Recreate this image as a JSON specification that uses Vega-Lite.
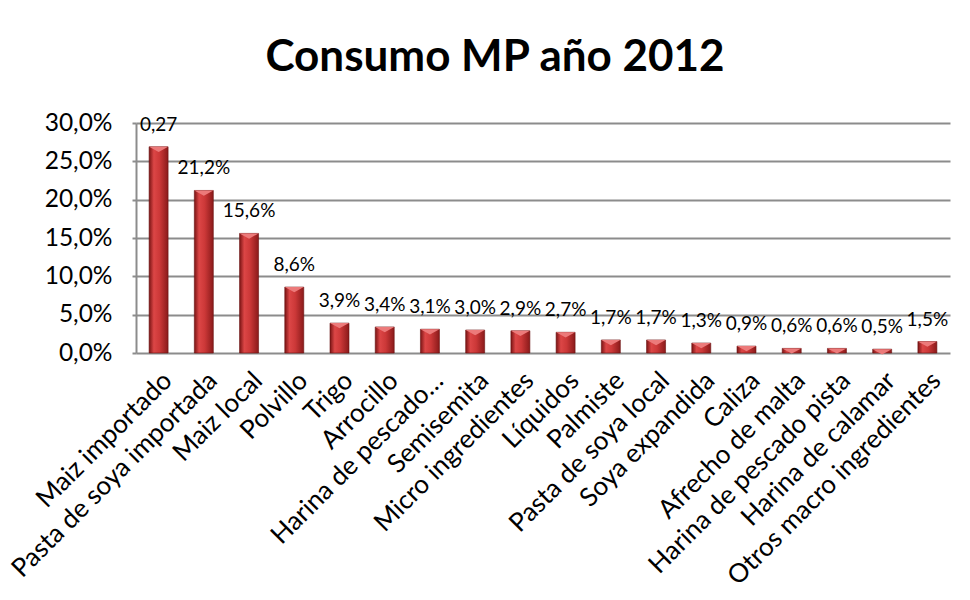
{
  "$schema": "https://vega.github.io/schema/vega-lite/v6.json",
  "autosize": "none",
  "width": 814,
  "height": 230,
  "padding": {"left": 136, "top": 123, "right": 20, "bottom": 247},
  "background": "white",
  "title": {
    "text": "Consumo MP año 2012",
    "font": "Lato",
    "fontSize": 44,
    "fontWeight": "bold",
    "color": "black",
    "anchor": "middle",
    "baseline": "alphabetic",
    "dx": -48,
    "offset": -5
  },
  "data": {
    "values": [
      {"materia": "Maiz importado", "valor": 0.269, "etiqueta": "0,27"},
      {"materia": "Pasta de soya importada", "valor": 0.212, "etiqueta": "21,2%"},
      {"materia": "Maiz local", "valor": 0.156, "etiqueta": "15,6%"},
      {"materia": "Polvillo", "valor": 0.086, "etiqueta": "8,6%"},
      {"materia": "Trigo", "valor": 0.039, "etiqueta": "3,9%"},
      {"materia": "Arrocillo", "valor": 0.034, "etiqueta": "3,4%"},
      {"materia": "Harina de pescado…", "valor": 0.031, "etiqueta": "3,1%"},
      {"materia": "Semisemita", "valor": 0.030, "etiqueta": "3,0%"},
      {"materia": "Micro ingredientes", "valor": 0.029, "etiqueta": "2,9%"},
      {"materia": "Líquidos", "valor": 0.027, "etiqueta": "2,7%"},
      {"materia": "Palmiste", "valor": 0.017, "etiqueta": "1,7%"},
      {"materia": "Pasta de soya local", "valor": 0.017, "etiqueta": "1,7%"},
      {"materia": "Soya expandida", "valor": 0.013, "etiqueta": "1,3%"},
      {"materia": "Caliza", "valor": 0.009, "etiqueta": "0,9%"},
      {"materia": "Afrecho de malta", "valor": 0.006, "etiqueta": "0,6%"},
      {"materia": "Harina de pescado pista", "valor": 0.006, "etiqueta": "0,6%"},
      {"materia": "Harina de calamar", "valor": 0.005, "etiqueta": "0,5%"},
      {"materia": "Otros macro ingredientes", "valor": 0.015, "etiqueta": "1,5%"}
    ]
  },
  "encoding": {
    "x": {
      "field": "materia",
      "type": "nominal",
      "sort": null,
      "scale": {"paddingInner": 0, "paddingOuter": 0},
      "axis": {
        "title": null,
        "labelAngle": -45,
        "labelFont": "Lato",
        "labelFontSize": 26,
        "labelColor": "black",
        "labelLimit": 400,
        "labelPadding": 14,
        "ticks": false,
        "domain": false
      }
    },
    "y": {
      "field": "valor",
      "type": "quantitative",
      "scale": {"domain": [0, 0.3], "nice": false},
      "axis": {
        "title": null,
        "values": [0, 0.05, 0.1, 0.15, 0.2, 0.25, 0.3],
        "labelExpr": "replace(format(datum.value, '.1%'), '.', ',')",
        "labelFont": "Lato",
        "labelFontSize": 24.5,
        "labelColor": "black",
        "labelPadding": 20,
        "domain": true,
        "domainColor": "#8c8c8c",
        "domainWidth": 2,
        "ticks": true,
        "tickColor": "#8c8c8c",
        "tickSize": 4,
        "tickWidth": 2,
        "grid": true,
        "gridColor": "#8c8c8c",
        "gridWidth": 2
      }
    }
  },
  "layer": [
    {
      "mark": {
        "type": "bar",
        "width": {"band": 0.42},
        "stroke": "#6a1010",
        "strokeWidth": 0.6,
        "color": {
          "gradient": "linear",
          "x1": 0, "x2": 1, "y1": 0, "y2": 0,
          "stops": [
            {"offset": 0, "color": "#7a1414"},
            {"offset": 0.25, "color": "#dc4646"},
            {"offset": 0.55, "color": "#cc3838"},
            {"offset": 1, "color": "#8a1a1a"}
          ]
        }
      }
    },
    {
      "mark": {
        "type": "point",
        "shape": "M-1,0L1,0L0,0.55Z",
        "size": 361,
        "filled": true,
        "color": "#ec7a7a",
        "opacity": 1
      }
    },
    {
      "mark": {
        "type": "text",
        "font": "Lato",
        "fontSize": 19,
        "color": "black",
        "baseline": "middle",
        "dy": -22
      },
      "encoding": {"text": {"field": "etiqueta"}}
    }
  ],
  "config": {
    "view": {"stroke": null}
  }
}
